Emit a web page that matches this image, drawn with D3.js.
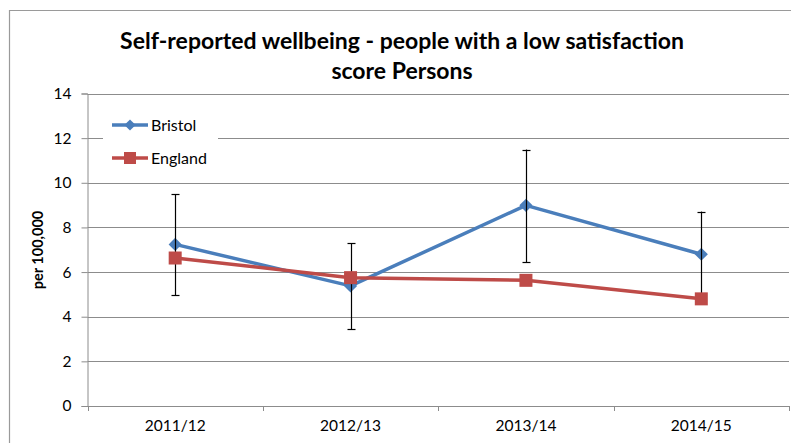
<!DOCTYPE html>
<html><head><meta charset="utf-8">
<script src="https://cdn.jsdelivr.net/npm/d3@7"></script>
<style>
body{margin:0;background:#fff;}
svg{display:block;font-family:Lato,"Open Sans",sans-serif;}
</style></head>
<body><svg id="chart" width="791" height="443"></svg>
<script>
const categories = ["2011/12","2012/13","2013/14","2014/15"];
const bristol = [7.24, 5.38, 8.99, 6.80];
const bristolLower = [4.96, 3.44, 6.43, 4.9];
const bristolUpper = [9.49, 7.30, 11.49, 8.71];
const england = [6.63, 5.75, 5.63, 4.80];
const yTicks = [0,2,4,6,8,10,12,14];
const seriesNames = ["Bristol","England"];
const titleLines = ["Self-reported wellbeing - people with a low satisfaction","score Persons"];
const yLabel = "per 100,000";

const svg = d3.select("#chart");
const W = 791, H = 443;
const m = {left:87.5, right:2, top:93.5, bottom:37};
const x = d3.scaleBand().domain(categories).range([m.left, W - m.right]);
const y = d3.scaleLinear().domain([0,14]).range([406, 93.5]);
const gridC = "#8c8c8c";

// outer border
svg.append("path").attr("d", `M9.5,${H} V10.5 H${W}`).attr("fill","none").attr("stroke","#9a9a9a").attr("stroke-width",1.2);

// gridlines
svg.append("g").selectAll("line").data(yTicks.filter(d=>d>0)).join("line")
  .attr("x1", m.left).attr("x2", W - m.right)
  .attr("y1", d=>Math.round(y(d))+0.5).attr("y2", d=>Math.round(y(d))+0.5)
  .attr("stroke", gridC).attr("stroke-width",1);

// y axis
const yAxis = svg.append("g").attr("transform",`translate(${m.left},0)`)
  .call(d3.axisLeft(y).tickValues(yTicks).tickSize(6).tickPadding(10).tickFormat(d3.format("d")));
yAxis.select(".domain").attr("stroke",gridC);
yAxis.selectAll(".tick line").attr("stroke",gridC);
yAxis.selectAll(".tick text").attr("font-size",15.5).attr("fill","#000").attr("font-family","Lato");

// x axis
const xAxis = svg.append("g").attr("transform",`translate(0,${y(0)})`)
  .call(d3.axisBottom(x).tickSize(0).tickPadding(14));
xAxis.select(".domain").attr("stroke",gridC);
xAxis.selectAll(".tick text").attr("font-size",15.5).attr("fill","#000").attr("font-family","Lato");
// boundary ticks
const bounds = categories.map(c=>x(c)).concat([x(categories[categories.length-1])+x.bandwidth()]);
svg.append("g").selectAll("line").data(bounds).join("line")
  .attr("x1",d=>Math.round(d)+0.5).attr("x2",d=>Math.round(d)+0.5)
  .attr("y1",y(0)).attr("y2",y(0)+5).attr("stroke",gridC);

// legend box (white) occluding gridline
svg.append("rect").attr("x",103).attr("y",110).attr("width",115).attr("height",62).attr("fill","#fff");

const cx = c => x(c) + x.bandwidth()/2;
const blue = "#4a7ebb", red = "#be4b48";

const line = d3.line().x((d,i)=>cx(categories[i])).y(d=>y(d));
svg.append("path").datum(bristol).attr("d",line).attr("fill","none").attr("stroke",blue).attr("stroke-width",3.5).attr("stroke-linejoin","round");
svg.append("g").selectAll("path").data(bristol).join("path")
  .attr("d", d3.symbol(d3.symbolDiamond2 ? d3.symbolDiamond2 : d3.symbolDiamond, 110))
  .attr("transform",(d,i)=>`translate(${cx(categories[i])},${y(d)})`)
  .attr("fill",blue);

// error bars
const eb = svg.append("g").attr("stroke","#000").attr("stroke-width",1.2);
categories.forEach((c,i)=>{
  const xx = Math.round(cx(c))+0.5;
  eb.append("line").attr("x1",xx).attr("x2",xx).attr("y1",y(bristolUpper[i])).attr("y2",y(bristolLower[i]));
  [bristolUpper[i],bristolLower[i]].forEach(v=>{
    eb.append("line").attr("x1",xx-4).attr("x2",xx+4).attr("y1",Math.round(y(v))+0.5).attr("y2",Math.round(y(v))+0.5);
  });
});

svg.append("path").datum(england).attr("d",line).attr("fill","none").attr("stroke",red).attr("stroke-width",3.5).attr("stroke-linejoin","round");
svg.append("g").selectAll("rect").data(england).join("rect")
  .attr("x",(d,i)=>cx(categories[i])-6.5).attr("y",d=>y(d)-6.5).attr("width",13).attr("height",13)
  .attr("fill",red);

// legend
const leg = svg.append("g");
[{n:seriesNames[0],c:blue,yy:125},{n:seriesNames[1],c:red,yy:158}].forEach((s,i)=>{
  leg.append("line").attr("x1",112).attr("x2",148).attr("y1",s.yy).attr("y2",s.yy).attr("stroke",s.c).attr("stroke-width",3.5);
  if(i===0){
    leg.append("path").attr("d",d3.symbol(d3.symbolDiamond2 ? d3.symbolDiamond2 : d3.symbolDiamond,80)).attr("transform",`translate(130,${s.yy})`).attr("fill",s.c);
  } else {
    leg.append("rect").attr("x",124).attr("y",s.yy-6).attr("width",12).attr("height",12).attr("fill",s.c);
  }
  leg.append("text").attr("x",151).attr("y",s.yy+5.5).attr("font-size",16).attr("fill","#000").text(s.n);
});

// title
svg.append("g").selectAll("text").data(titleLines).join("text")
  .attr("x",402).attr("y",(d,i)=>49+i*30).attr("text-anchor","middle")
  .attr("font-weight","bold").attr("font-size",23).attr("fill","#000").text(d=>d);

// y label
svg.append("text").attr("transform","translate(43,250) rotate(-90)").attr("text-anchor","middle")
  .attr("font-weight","bold").attr("font-size",14.5).attr("fill","#000").text(yLabel);
</script></body></html>
